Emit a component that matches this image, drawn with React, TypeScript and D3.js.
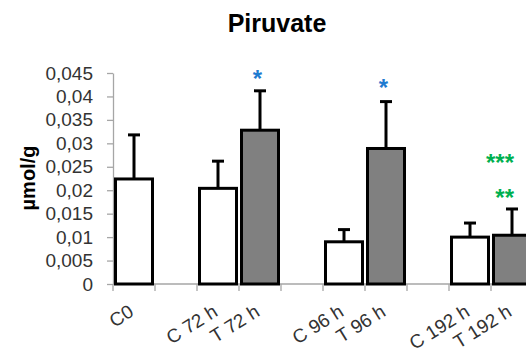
import React, { useRef, useEffect } from 'react';
import * as d3 from 'd3';

// groups on the x axis ("" = empty slot between groups)
const categories = ['C0', '', 'C 72 h', 'T 72 h', '', 'C 96 h', 'T 96 h', '', 'C 192 h', 'T 192 h'];
const means: (number | null)[] = [0.0224, null, 0.0204, 0.0328, null, 0.009, 0.0289, null, 0.01, 0.0104];
const errors: (number | null)[] = [0.0094, null, 0.0058, 0.0084, null, 0.0026, 0.01, null, 0.003, 0.0056];
const yTicks = [0, 0.005, 0.01, 0.015, 0.02, 0.025, 0.03, 0.035, 0.04, 0.045];

// significance marks
const sigIndex = [3, 6, 9, 9];
const sigLabels = ['*', '*', '***', '**'];
const sigValues = [0.045, 0.0431, 0.0271, 0.0196];
const sigColors = ['#1f7bd0', '#1f7bd0', '#00b050', '#00b050'];

const App = () => {
  const ref = useRef<SVGSVGElement>(null);

  useEffect(() => {
    const width = 526;
    const height = 354;
    const left = 113;
    const svg = d3.select(ref.current).attr('width', width).attr('height', height);
    svg.selectAll('*').remove();

    const x = d3.scaleBand<number>()
      .domain(d3.range(categories.length))
      .range([left, left + 42 * categories.length])
      .padding(0);

    const y = d3.scaleLinear().domain([0, 0.045]).range([284, 73]);

    const fmt = d3.formatLocale({ decimal: ',', thousands: '.', grouping: [3], currency: ['', ''] }).format('~g');

    // title
    svg.append('text')
      .attr('x', 277).attr('y', 32)
      .attr('text-anchor', 'middle')
      .attr('font-family', 'Liberation Sans, Arial, sans-serif')
      .attr('font-weight', 'bold')
      .attr('font-size', 25)
      .text('Piruvate');

    // y label
    svg.append('text')
      .attr('transform', 'translate(35,178) rotate(-90)')
      .attr('text-anchor', 'middle')
      .attr('font-family', 'Liberation Sans, Arial, sans-serif')
      .attr('font-weight', 'bold')
      .attr('font-size', 20)
      .text('µmol/g');

    // y axis
    const yAxis = svg.append('g')
      .attr('transform', `translate(${left},0)`)
      .call(d3.axisLeft(y).tickValues(yTicks).tickFormat(d => fmt(+d)).tickSize(6).tickSizeOuter(0).tickPadding(14));
    yAxis.select('.domain').attr('stroke', '#a6a6a6').attr('stroke-width', 1.3);
    yAxis.selectAll('.tick line').attr('stroke', '#a6a6a6').attr('stroke-width', 1.3);
    yAxis.selectAll('.tick text')
      .attr('font-family', 'Liberation Sans, Arial, sans-serif')
      .attr('font-size', 19)
      .attr('fill', '#333');

    // x axis line + ticks at band edges
    svg.append('line')
      .attr('x1', left).attr('x2', width)
      .attr('y1', y(0)).attr('y2', y(0))
      .attr('stroke', '#a6a6a6').attr('stroke-width', 1.3);
    svg.append('g').selectAll('line')
      .data(d3.range(categories.length + 1))
      .enter().append('line')
      .attr('x1', i => left + i * x.bandwidth())
      .attr('x2', i => left + i * x.bandwidth())
      .attr('y1', y(0)).attr('y2', y(0) + 7)
      .attr('stroke', '#a6a6a6').attr('stroke-width', 1.3);

    const idx = d3.range(categories.length).filter(i => means[i] != null);

    // error bars
    const eb = svg.append('g');
    eb.selectAll('.stem')
      .data(idx)
      .enter().append('line')
      .attr('x1', i => x(i)! + x.bandwidth() / 2)
      .attr('x2', i => x(i)! + x.bandwidth() / 2)
      .attr('y1', i => y(means[i]!))
      .attr('y2', i => y(means[i]! + errors[i]!))
      .attr('stroke', '#000').attr('stroke-width', 3);
    eb.selectAll('.cap')
      .data(idx)
      .enter().append('line')
      .attr('x1', i => x(i)! + x.bandwidth() / 2 - 6)
      .attr('x2', i => x(i)! + x.bandwidth() / 2 + 6)
      .attr('y1', i => y(means[i]! + errors[i]!))
      .attr('y2', i => y(means[i]! + errors[i]!))
      .attr('stroke', '#000').attr('stroke-width', 3);

    // bars
    svg.append('g').selectAll('rect')
      .data(idx)
      .enter().append('rect')
      .attr('x', i => x(i)! + 2.5)
      .attr('width', x.bandwidth() - 5)
      .attr('y', i => y(means[i]!))
      .attr('height', i => y(0) - y(means[i]!))
      .attr('fill', i => categories[i].startsWith('T') ? '#808080' : '#fff')
      .attr('stroke', '#000').attr('stroke-width', 3);

    // x labels
    svg.append('g').selectAll('text')
      .data(idx)
      .enter().append('text')
      .attr('transform', i => `translate(${x(i)! + x.bandwidth() / 2 + 1},315) rotate(-32)`)
      .attr('text-anchor', 'end')
      .attr('font-family', 'Liberation Sans, Arial, sans-serif')
      .attr('font-size', 19)
      .attr('fill', '#333')
      .text(i => categories[i]);

    // significance marks
    svg.append('g').selectAll('text')
      .data(d3.range(sigLabels.length))
      .enter().append('text')
      .attr('x', k => x(sigIndex[k])! + x.bandwidth() / 2 + 2)
      .attr('y', k => y(sigValues[k]) + 14)
      .attr('text-anchor', 'end')
      .attr('font-family', 'Liberation Sans, Arial, sans-serif')
      .attr('font-weight', 'bold')
      .attr('font-size', 24)
      .attr('fill', k => sigColors[k])
      .text(k => sigLabels[k]);
  }, []);

  return (
    <svg ref={ref} style={{ position: 'absolute', left: 0, top: 0, background: '#fff' }}></svg>
  );
};

export default App;
